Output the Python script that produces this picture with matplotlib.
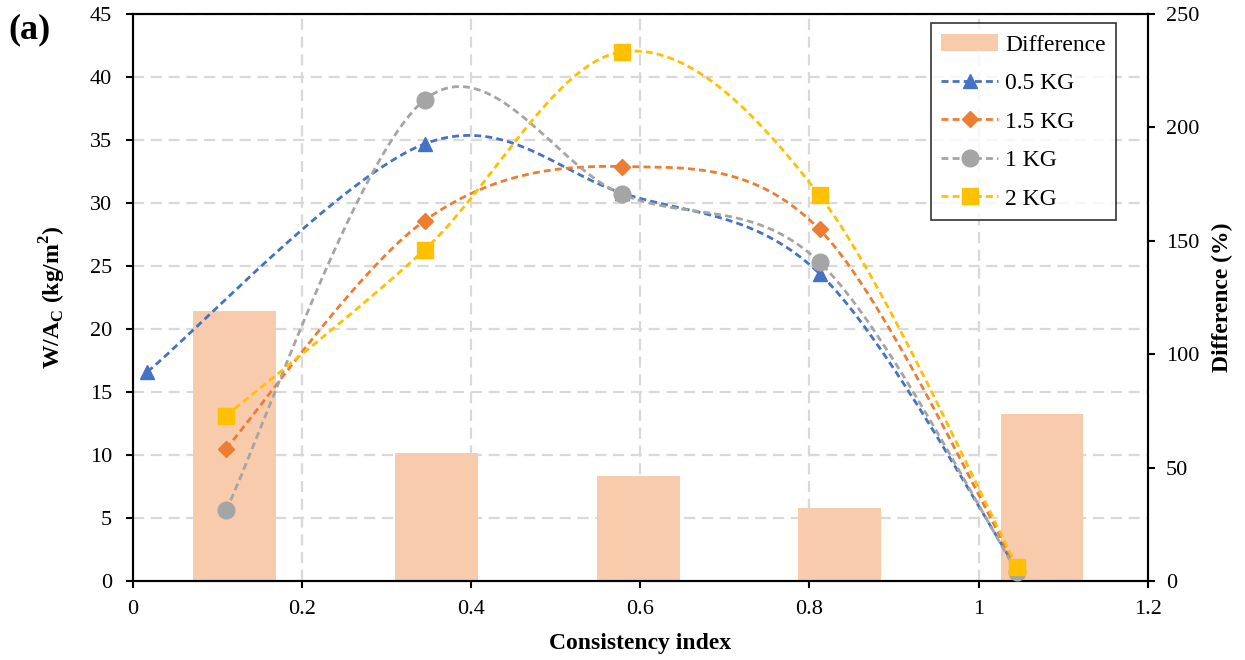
import numpy as np
import matplotlib
matplotlib.use('Agg')
import matplotlib.pyplot as plt
from matplotlib.ticker import FuncFormatter

plt.rcParams['font.family'] = ['Liberation Serif', 'DejaVu Serif']
plt.rcParams['mathtext.fontset'] = 'custom'
plt.rcParams['mathtext.rm'] = 'Liberation Serif'
plt.rcParams['mathtext.bf'] = 'Liberation Serif:bold'

# data
ci_pts = [0.110, 0.345, 0.578, 0.812, 1.046]
ci_blue = [0.017, 0.345, 0.578, 0.812, 1.046]
kg05 = [16.6, 34.7, 30.8, 24.4, 0.9]
kg15 = [10.5, 28.6, 32.9, 27.9, 1.0]
kg1 = [5.6, 38.2, 30.7, 25.3, 0.7]
kg2 = [13.1, 26.3, 42.0, 30.6, 1.1]
bar_x = [0.120, 0.359, 0.598, 0.836, 1.075]
diff = [119.0, 56.4, 46.3, 32.2, 73.6]

def smooth(x, y, n=40):
    # excel style smoothed line (catmull-rom through bezier)
    x = np.asarray(x, float); y = np.asarray(y, float)
    P = np.column_stack([x, y])
    out = []
    for i in range(len(P) - 1):
        p0 = P[i - 1] if i > 0 else P[i]
        p1, p2 = P[i], P[i + 1]
        p3 = P[i + 2] if i + 2 < len(P) else P[i + 1]
        c1 = p1 + (p2 - p0) / 6
        c2 = p2 - (p3 - p1) / 6
        t = np.linspace(0, 1, n)[:, None]
        seg = (1-t)**3*p1 + 3*(1-t)**2*t*c1 + 3*(1-t)*t**2*c2 + t**3*p2
        out.append(seg if i == 0 else seg[1:])
    out = np.vstack(out)
    return out[:, 0], out[:, 1]

fig = plt.figure(figsize=(12.45, 6.6), dpi=100)
ax = fig.add_axes([0.1068, 0.1197, 0.815, 0.859])
ax2 = ax.twinx()

ax.set_xlim(0, 1.2)
ax.set_ylim(0, 45)
ax2.set_ylim(0, 250)
ax.set_zorder(ax2.get_zorder() + 1)
ax.patch.set_visible(False)

# bars on the right axis, grid drawn on it so bars sit over the grid
ax2.bar(bar_x, diff, width=0.098, color='#F7CBAC', zorder=2, label='Difference')
ax2.set_yticks(np.arange(0, 251, 50))
# horizontal grid at left-axis ticks, converted into right-axis units
for v in np.arange(5, 46, 5):
    ax2.axhline(v * 250 / 45, color='#D9D9D9', lw=1.6, ls=(0, (5, 3)), zorder=0)
for v in [0.2, 0.4, 0.6, 0.8, 1.0]:
    ax2.axvline(v, color='#D9D9D9', lw=1.6, ls=(0, (5, 3)), zorder=0)

series = [
    (ci_blue, kg05, '#4472C4', '^', 10, '0.5 KG'),
    (ci_pts, kg15, '#ED7D31', 'D', 8.5, '1.5 KG'),
    (ci_pts, kg1, '#A5A5A5', 'o', 12, '1 KG'),
    (ci_pts, kg2, '#FFC000', 's', 11, '2 KG'),
]
handles = []
for xs, ys, c, m, ms, lab in series:
    sx, sy = smooth(xs, ys)
    ax.plot(sx, sy, color=c, lw=2, dashes=(2.5, 1.5), zorder=3)
    ax.plot(xs, ys, ls='none', marker=m, ms=ms, color=c, zorder=4)
    h, = ax.plot([], [], color=c, lw=2, dashes=(2.5, 1.5), marker=m, ms=ms, label=lab)
    handles.append(h)

bar_h = ax2.patches[0]
leg = ax.legend([bar_h] + handles, ['Difference'] + [h.get_label() for h in handles],
                loc='upper right', bbox_to_anchor=(0.969, 0.9835), fontsize=17,
                frameon=True, fancybox=False, edgecolor='black', handlelength=2.4,
                handletextpad=0.3, labelspacing=0.72, borderpad=0.45, borderaxespad=0)
leg.get_frame().set_linewidth(1.2)

ax.set_xticks([0, 0.2, 0.4, 0.6, 0.8, 1.0, 1.2])
ax.xaxis.set_major_formatter(FuncFormatter(lambda v, p: '%g' % v))
ax.set_yticks(np.arange(0, 46, 5))
for a in (ax, ax2):
    a.tick_params(labelsize=16, direction='out', length=5, width=1.5)
    for s in a.spines.values():
        s.set_linewidth(1.5)
ax.tick_params(axis='x', pad=9)
ax.tick_params(axis='y', pad=10)
ax2.tick_params(axis='y', pad=8)

ax.set_xlabel('Consistency index', fontsize=17, fontweight='bold', labelpad=10)
ax.set_ylabel(r'W/A$_\mathbf{C}$ (kg/m$^\mathbf{2}$)', fontsize=17, fontweight='bold', labelpad=16)
ax2.set_ylabel('Difference (%)', fontsize=17, fontweight='bold', labelpad=9)

fig.text(0.007, 0.942, '(a)', fontsize=26, fontweight='bold')

fig.savefig('out.png', dpi=100)
